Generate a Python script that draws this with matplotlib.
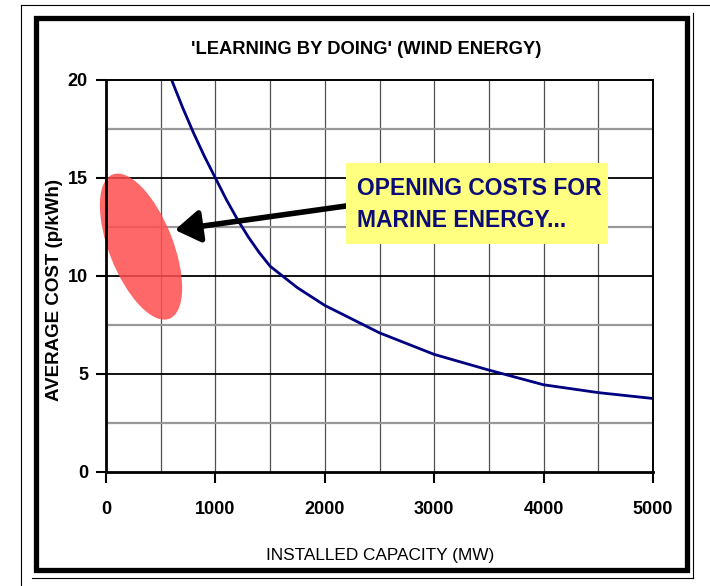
import matplotlib
matplotlib.use("Agg")
import matplotlib.pyplot as plt
from matplotlib.patches import Ellipse, Rectangle
from matplotlib.lines import Line2D
from matplotlib.transforms import ScaledTranslation
import numpy as np

plt.rcParams['font.family'] = ['Liberation Sans', 'DejaVu Sans']

# learning curve
capacity = [600, 700, 800, 900, 1000, 1100, 1200, 1300, 1400, 1500,
            1750, 2000, 2500, 3000, 3500, 4000, 4500, 5000]
avg_cost = [20, 18.6, 17.3, 16.1, 15, 13.9, 12.9, 12.0, 11.2, 10.5,
            9.4, 8.5, 7.1, 6.0, 5.2, 4.45, 4.05, 3.75]

x_ticks = [0, 1000, 2000, 3000, 4000, 5000]
y_ticks = [0, 5, 10, 15, 20]

title = "'LEARNING BY DOING' (WIND ENERGY)"
note = "OPENING COSTS FOR\nMARINE ENERGY..."
marine_centre = (320, 11.5)      # centre of the red blob
arrow_tip = (630, 12.35)
arrow_tail = (2230, 13.6)

fig = plt.figure(figsize=(7.1, 5.86), dpi=100)
ax = fig.add_axes([106 / 710, 1 - 472 / 586, 547 / 710, 392 / 586])

# frame around the whole picture (figure pixels)
W, H = 710, 586
def px(x, y):
    return x / W, 1 - y / H
fig.add_artist(Line2D([px(21, 0)[0], px(710, 0)[0]], [px(0, 5)[1]] * 2, color='black', lw=0.8))
fig.add_artist(Line2D([px(21, 0)[0]] * 2, [px(0, 5)[1], px(0, 586)[1]], color='black', lw=0.8))
fig.add_artist(Rectangle(px(36, 570), (687 - 36) / W, (570 - 18) / H, fill=False,
                         edgecolor='black', lw=3.8))
fig.add_artist(Line2D([px(693, 0)[0]] * 2, [px(0, 13)[1], px(0, 578)[1]], color='black', lw=0.8))
fig.add_artist(Line2D([px(32, 0)[0], px(693, 0)[0]], [px(0, 578)[1]] * 2, color='black', lw=0.8))

ax.set_xlim(0, 5000)
ax.set_ylim(0, 20)

# grid
for gx in np.arange(500, 5000, 500):
    ax.axvline(gx, color='#505050', lw=0.9, zorder=1)
for gy in [2.5, 7.5, 12.5, 17.5]:
    ax.axhline(gy, color='#999999', lw=1.6, zorder=1)
for gy in [5, 10, 15]:
    ax.axhline(gy, color='black', lw=1.3, zorder=1)

ax.plot(capacity, avg_cost, color='#000080', lw=2, zorder=3, solid_capstyle='butt')

# red blob for marine energy
blob_tr = fig.dpi_scale_trans + ScaledTranslation(marine_centre[0], marine_centre[1], ax.transData)
ax.add_patch(Ellipse((0, 0), 1.55, 0.64, angle=-68.5, transform=blob_tr,
                     facecolor='#ff4e4e', edgecolor='none', alpha=0.85, zorder=4, clip_on=False))

# arrow and note
ax.annotate('', xy=arrow_tip, xytext=arrow_tail,
            arrowprops=dict(arrowstyle='-|>,head_length=1.0,head_width=0.65',
                            mutation_scale=15, lw=4, color='black', shrinkA=0, shrinkB=0),
            zorder=5)
ax.add_patch(Rectangle((2194, 11.63), 4589 - 2194, 15.77 - 11.63,
                       facecolor='#ffff80', edgecolor='none', zorder=6))
ax.text(2294, 13.65, note, ha='left', va='center', fontsize=16.5, fontweight='bold',
        color='#0c0c78', linespacing=1.45, zorder=7)

for s in ['left', 'bottom']:
    ax.spines[s].set_linewidth(2)
for s in ['top', 'right']:
    ax.spines[s].set_linewidth(1.4)
for s in ax.spines.values():
    s.set_zorder(8)

ax.set_xticks(x_ticks)
ax.set_yticks(y_ticks)
ax.tick_params(axis='x', direction='out', length=8, width=1.5, pad=13, labelsize=13)
ax.tick_params(axis='y', direction='out', length=7, width=1.5, pad=6, labelsize=13)
for lab in ax.get_xticklabels() + ax.get_yticklabels():
    lab.set_fontweight('bold')

ax.set_xlabel('INSTALLED CAPACITY (MW)', fontsize=12.4)
ax.xaxis.set_label_coords(0.501, -0.194)
ax.set_ylabel('AVERAGE COST (p/kWh)', fontsize=13.5, fontweight='bold')
ax.yaxis.set_label_coords(-0.078, 0.464)
ax.text(0.475, 1.077, title, transform=ax.transAxes, ha='center', va='center',
        fontsize=13.2, fontweight='bold')

fig.savefig('out.png', dpi=100)
